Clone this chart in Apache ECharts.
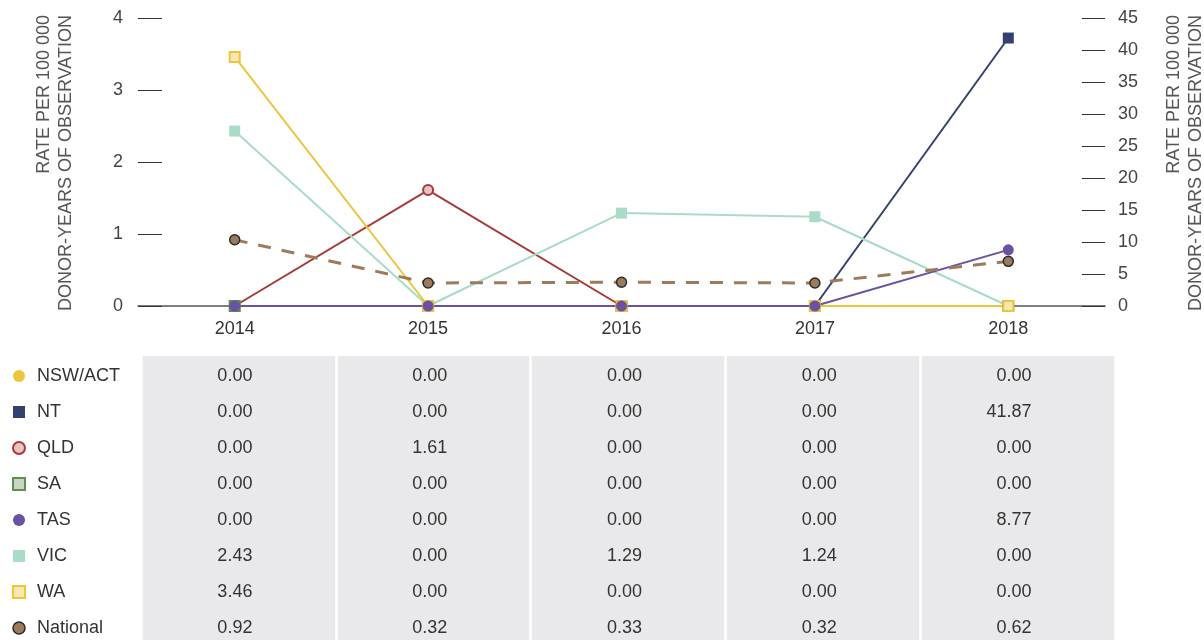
<!DOCTYPE html>
<html>
<head>
<meta charset="utf-8">
<script src="https://cdn.jsdelivr.net/npm/echarts@6/dist/echarts.min.js"></script>
<style>
html,body{margin:0;padding:0;background:#fff;}
#chart{width:1204px;height:640px;}
</style>
</head>
<body>
<div id="chart"></div>
<script>
const years = ['2014', '2015', '2016', '2017', '2018'];
const seriesNames = ['NSW/ACT', 'NT', 'QLD', 'SA', 'TAS', 'VIC', 'WA', 'National'];
const nswAct = [0.00, 0.00, 0.00, 0.00, 0.00];
const nt = [0.00, 0.00, 0.00, 0.00, 41.87];
const qld = [0.00, 1.61, 0.00, 0.00, 0.00];
const sa = [0.00, 0.00, 0.00, 0.00, 0.00];
const tas = [0.00, 0.00, 0.00, 0.00, 8.77];
const vic = [2.43, 0.00, 1.29, 1.24, 0.00];
const wa = [3.46, 0.00, 0.00, 0.00, 0.00];
const national = [0.92, 0.32, 0.33, 0.32, 0.62];
const leftTicks = { min: 0, max: 4, interval: 1 };
const rightTicks = { min: 0, max: 45, interval: 5 };
const axisTitle = 'RATE PER 100 000\nDONOR-YEARS OF OBSERVATION';

const values = [nswAct, nt, qld, sa, tas, vic, wa, national];

const styles = {
  'NSW/ACT': { line: '#ecc53c', symbol: 'circle', fill: '#ecc53c', border: '#ecc53c', bw: 0, axis: 0 },
  'NT': { line: '#34416e', symbol: 'rect', fill: '#34416e', border: '#34416e', bw: 0, axis: 1 },
  'QLD': { line: '#a63a36', symbol: 'circle', fill: '#e8c4c0', border: '#a63a36', bw: 2, axis: 0 },
  'SA': { line: '#5e8f50', symbol: 'rect', fill: '#c9d6c2', border: '#5e8f50', bw: 2, axis: 0 },
  'TAS': { line: '#6a52a3', symbol: 'circle', fill: '#6a52a3', border: '#6a52a3', bw: 0, axis: 1 },
  'VIC': { line: '#a8dcc6', symbol: 'rect', fill: '#a8dcc6', border: '#a8dcc6', bw: 0, axis: 0 },
  'WA': { line: '#ecc53c', symbol: 'rect', fill: '#f6e7b5', border: '#ecc53c', bw: 2, axis: 0 },
  'National': { line: '#9c7b5b', symbol: 'circle', fill: '#9c7b5b', border: '#2b2b2b', bw: 1.5, axis: 0, dashed: true }
};

// drawing order (TAS above WA at zero)
const drawOrder = ['NSW/ACT', 'NT', 'QLD', 'SA', 'VIC', 'WA', 'TAS', 'National'];

const lineSeries = drawOrder.map(name => {
  const s = styles[name];
  const idx = seriesNames.indexOf(name);
  return {
    name: name,
    type: 'line',
    xAxisIndex: 0,
    yAxisIndex: s.axis,
    data: values[idx],
    symbol: s.symbol,
    symbolSize: s.bw ? 10 : 11,
    showSymbol: true,
    lineStyle: { color: s.line, width: s.dashed ? 3 : 2, type: s.dashed ? [13, 11] : 'solid' },
    itemStyle: { color: s.fill, borderColor: s.border, borderWidth: s.bw },
    emphasis: { disabled: true },
    z: 3
  };
});

const tableData = [];
seriesNames.forEach((name, r) => {
  values[r].forEach((v, c) => tableData.push([c, r, v]));
});

const font = '"Liberation Sans", Arial, Helvetica, sans-serif';

const titleStyle = {
  text: axisTitle,
  fontSize: 18,
  fontFamily: font,
  fill: '#555',
  align: 'right',
  verticalAlign: 'middle',
  lineHeight: 22
};

const option = {
  animation: false,
  textStyle: { fontFamily: font },
  graphic: [
    { type: 'text', x: 55, y: 15, rotation: Math.PI / 2, style: Object.assign({}, titleStyle), silent: true },
    { type: 'text', x: 1185, y: 15, rotation: Math.PI / 2, style: Object.assign({}, titleStyle), silent: true }
  ],
  legend: {
    orient: 'vertical',
    left: 12,
    top: 367,
    padding: 0,
    itemWidth: 12,
    itemHeight: 12,
    itemGap: 18,
    selectedMode: false,
    textStyle: { fontSize: 18, color: '#333', fontFamily: font, lineHeight: 18, padding: [0, 0, 0, 7] },
    data: seriesNames.map(name => {
      const s = styles[name];
      return {
        name: name,
        icon: s.symbol === 'rect' ? 'rect' : 'circle',
        itemStyle: { color: s.fill, borderColor: s.border, borderWidth: s.bw }
      };
    })
  },
  grid: [
    { left: 138, right: 99, top: 18, bottom: 334, containLabel: false, outerBoundsMode: 'none' },
    { left: 141, right: 89, top: 356, bottom: -4, show: true, backgroundColor: '#e9e9eb', borderWidth: 0, outerBoundsMode: 'none' }
  ],
  xAxis: [
    {
      type: 'category', gridIndex: 0, data: years, boundaryGap: true,
      axisLine: { show: true, lineStyle: { color: '#555', width: 1.5 } },
      axisTick: { show: false },
      axisLabel: { fontSize: 18, color: '#333', margin: 14, fontFamily: font },
      splitLine: { show: false }
    },
    {
      type: 'category', gridIndex: 1, data: years, boundaryGap: true,
      axisLine: { show: false }, axisTick: { show: false }, axisLabel: { show: false },
      splitLine: { show: true, lineStyle: { color: '#ffffff', width: 2.5 } }
    }
  ],
  yAxis: [
    {
      type: 'value', gridIndex: 0, position: 'left',
      min: leftTicks.min, max: leftTicks.max, interval: leftTicks.interval,
      axisLine: { show: false },
      axisTick: { show: true, inside: true, length: 24, lineStyle: { color: '#333', width: 1 } },
      axisLabel: { fontSize: 18, color: '#444', margin: 15, fontFamily: font },
      splitLine: { show: false }
    },
    {
      type: 'value', gridIndex: 0, position: 'right',
      min: rightTicks.min, max: rightTicks.max, interval: rightTicks.interval,
      axisLine: { show: false },
      axisTick: { show: true, inside: true, length: 23, lineStyle: { color: '#333', width: 1 } },
      axisLabel: { fontSize: 18, color: '#444', margin: 13, fontFamily: font },
      splitLine: { show: false }
    },
    {
      type: 'category', gridIndex: 1, data: seriesNames, inverse: true,
      axisLine: { show: false }, axisTick: { show: false }, axisLabel: { show: false },
      splitLine: { show: false }
    }
  ],
  series: lineSeries.concat([{
    name: 'table',
    type: 'scatter',
    xAxisIndex: 1,
    yAxisIndex: 2,
    data: tableData,
    symbolSize: 1,
    itemStyle: { color: 'rgba(0,0,0,0)', opacity: 1 },
    emphasis: { disabled: true },
    label: {
      show: true,
      position: 'inside',
      align: 'right',
      offset: [14, 2],
      fontSize: 18,
      color: '#333',
      opacity: 1,
      fontFamily: font,
      formatter: p => p.value[2].toFixed(2)
    }
  }])
};

const chart = echarts.init(document.getElementById('chart'), null, { renderer: 'canvas' });
chart.setOption(option);
</script>
</body>
</html>
